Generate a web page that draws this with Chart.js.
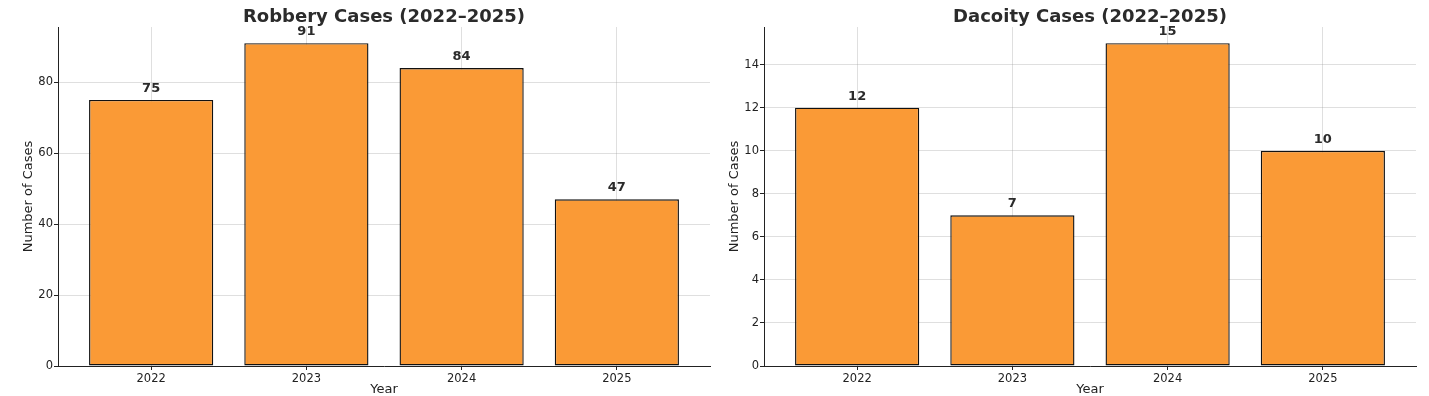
<!DOCTYPE html>
<html>
<head>
<meta charset="utf-8">
<script src="https://cdn.jsdelivr.net/npm/chart.js@4"></script>
<style>
body { margin: 0; background: #fff; }
.box { position: absolute; top: 0; height: 396px; }
</style>
</head>
<body>
<div class="box" style="left:0;width:714px"><canvas id="robbery-chart"></canvas></div>
<div class="box" style="left:706px;width:723px"><canvas id="dacoity-chart"></canvas></div>
<script>
const years = ['2022', '2023', '2024', '2025'];
const robberyCases = [75, 91, 84, 47];
const dacoityCases = [12, 7, 15, 10];
const robberyTicks = [0, 20, 40, 60, 80];
const dacoityTicks = [0, 2, 4, 6, 8, 10, 12, 14];

Chart.defaults.font.family = '"DejaVu Sans", sans-serif';
Chart.defaults.color = '#222';

const gridColor = 'rgba(150,150,150,0.3)';
const barColor = '#fa9a36';

// title + value labels, drawn on top of everything
const labelPlugin = (title, values) => ({
    id: 'labels',
    afterDraw(chart) {
        const ctx = chart.ctx;
        const area = chart.chartArea;
        ctx.save();
        ctx.fillStyle = '#2b2b2b';
        ctx.textAlign = 'center';
        ctx.font = 'bold 18px "DejaVu Sans"';
        ctx.fillText(title, (area.left + area.right) / 2, 22);
        ctx.font = 'bold 13px "DejaVu Sans"';
        chart.getDatasetMeta(0).data.forEach((bar, i) => {
            ctx.fillText(values[i], bar.x, bar.y - 8);
        });
        ctx.restore();
    }
});

const makeChart = (canvas, title, values, yTicks, rightPad) => {
    new Chart(canvas, {
        type: 'bar',
        data: {
            datasets: [{
                data: values.map((v, i) => ({ x: i, y: v })),
                backgroundColor: barColor,
                borderColor: '#111',
                borderWidth: 1.4,
                borderSkipped: false,
                barPercentage: 0.8,
                categoryPercentage: 1
            }]
        },
        options: {
            responsive: true,
            maintainAspectRatio: false,
            animation: false,
            layout: { padding: { top: 27, right: rightPad, left: 0, bottom: 0 } },
            plugins: { legend: { display: false }, tooltip: { enabled: false } },
            scales: {
                x: {
                    type: 'linear',
                    min: -0.6,
                    max: 3.6,
                    offset: false,
                    z: 1,
                    afterBuildTicks: s => { s.ticks = years.map((y, i) => ({ value: i })); },
                    ticks: { callback: v => years[v], font: { size: 11.5 }, padding: 2, autoSkip: false, maxRotation: 0 },
                    grid: { offset: false, color: gridColor, tickColor: '#222', tickLength: 4 },
                    border: { color: '#222' },
                    title: { display: true, text: 'Year', font: { size: 13, lineHeight: 1 }, padding: { top: 0, bottom: 0 } },
                    afterFit: s => { s.height = 30; }
                },
                y: {
                    min: 0,
                    max: Math.max(...values) * 1.05,
                    z: 1,
                    afterBuildTicks: s => { s.ticks = yTicks.map(v => ({ value: v })); },
                    ticks: { font: { size: 11.5 }, padding: 1 },
                    grid: { color: gridColor, tickColor: '#222', tickLength: 4 },
                    border: { color: '#222' },
                    title: { display: true, text: 'Number of Cases', font: { size: 13 }, padding: { top: 21, bottom: 0 } },
                    afterFit: s => { s.width = 58; }
                }
            }
        },
        plugins: [labelPlugin(title, values)]
    });
};

makeChart(document.querySelector('#robbery-chart'), 'Robbery Cases (2022–2025)', robberyCases, robberyTicks, 4);
makeChart(document.querySelector('#dacoity-chart'), 'Dacoity Cases (2022–2025)', dacoityCases, dacoityTicks, 13);
</script>
</body>
</html>
